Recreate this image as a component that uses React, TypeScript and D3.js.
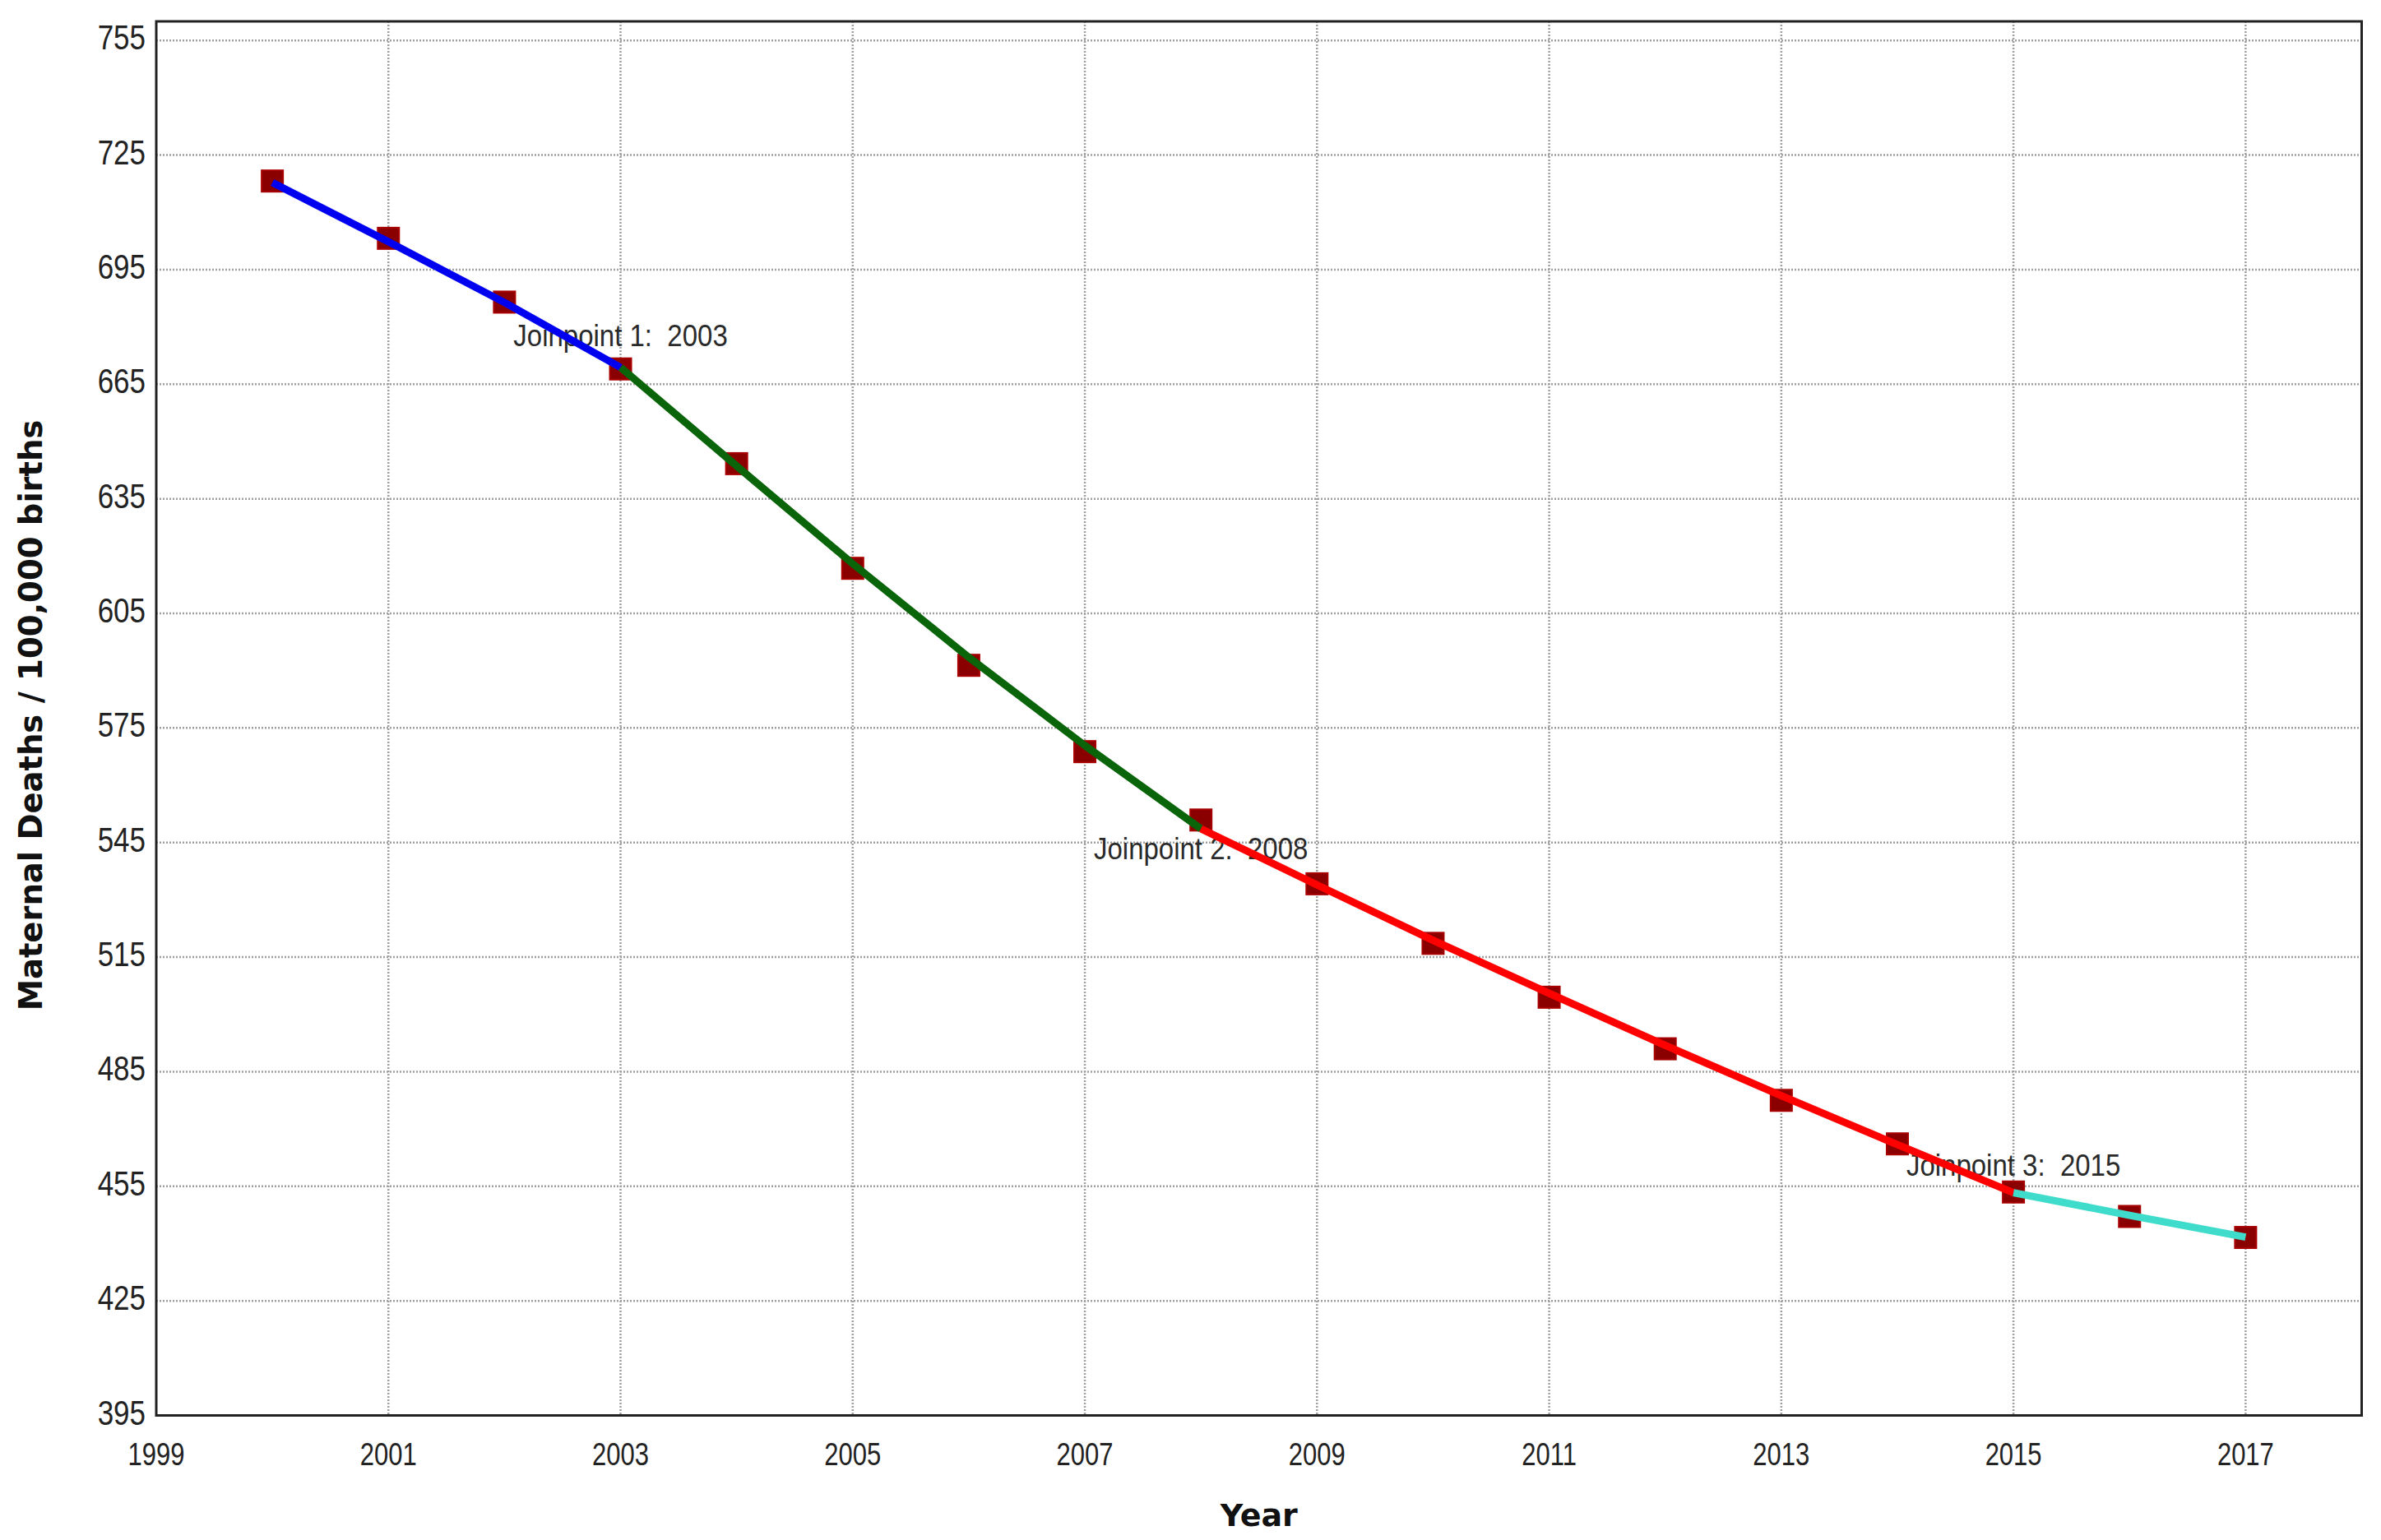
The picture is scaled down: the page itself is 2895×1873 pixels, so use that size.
import { useEffect, useRef } from "react";
import * as d3 from "d3";

const W = 2895;
const H = 1873;
const FONT = "'Liberation Sans', Arial, sans-serif";
const FONT_BOLD = "'DejaVu Sans', Verdana, sans-serif";

// observed rates and the joinpoint fitted line, per year
const years = [2000, 2001, 2002, 2003, 2004, 2005, 2006, 2007, 2008, 2009, 2010, 2011, 2012, 2013, 2014, 2015, 2016, 2017];
const observed = [718.2, 703.2, 686.5, 669.0, 644.2, 616.8, 591.4, 568.8, 550.9, 534.2, 518.6, 504.5, 491.0, 477.5, 466.1, 453.5, 447.1, 441.6];
const fitted = [717.8, 702.3, 686.4, 669.4, 643.6, 618.0, 593.5, 570.4, 548.6, 533.9, 519.4, 505.5, 491.9, 478.7, 465.9, 453.3, 447.4, 441.7];

const joinpoints = [2003, 2008, 2015];
const jpLabels = ["Joinpoint 1:  2003", "Joinpoint 2:  2008", "Joinpoint 3:  2015"];
const segColors = ["#0000f0", "#0a640a", "#ff0000", "#40dccb"];

const xTicks = [1999, 2001, 2003, 2005, 2007, 2009, 2011, 2013, 2015, 2017];
const yTicks = [395, 425, 455, 485, 515, 545, 575, 605, 635, 665, 695, 725, 755];

export default function App() {
  const svgRef = useRef(null);

  useEffect(() => {
    const svg = d3.select(svgRef.current);
    svg.selectAll("*").remove();

    const left = 190, right = 2871.5, top = 26, bottom = 1721.5;
    const x = d3.scaleLinear().domain([1999, 2018]).range([left, right]);
    const y = d3.scaleLinear().domain([395, 760]).range([bottom, top]);

    svg.append("rect").attr("width", W).attr("height", H).attr("fill", "#fff");

    // dotted grid
    const grid = svg.append("g").attr("stroke", "#a0a0a0").attr("stroke-width", 2.5).attr("stroke-dasharray", "2,2");
    grid.selectAll("line.h").data(yTicks.filter(d => d > 395)).enter().append("line")
      .attr("x1", left).attr("x2", right).attr("y1", d => y(d)).attr("y2", d => y(d));
    grid.selectAll("line.v").data(xTicks.filter(d => d > 1999)).enter().append("line")
      .attr("y1", top).attr("y2", bottom).attr("x1", d => x(d)).attr("x2", d => x(d));

    // tick labels (the source font is stretched vertically)
    svg.append("g").selectAll("text").data(yTicks).enter().append("text")
      .attr("transform", d => `translate(177,${y(d) + 11}) scale(1,1.24)`)
      .attr("text-anchor", "end").attr("font-family", FONT).attr("font-size", 35).attr("fill", "#222")
      .text(d => d);
    svg.append("g").selectAll("text").data(xTicks).enter().append("text")
      .attr("transform", d => `translate(${x(d)},1782) scale(1,1.27)`)
      .attr("text-anchor", "middle").attr("font-family", FONT).attr("font-size", 31).attr("fill", "#222")
      .text(d => d);

    // axis titles
    svg.append("text")
      .attr("x", (left + right) / 2).attr("y", 1856)
      .attr("text-anchor", "middle").attr("font-family", FONT_BOLD).attr("font-weight", "bold")
      .attr("font-size", 38).attr("fill", "#111")
      .text("Year");
    svg.append("text")
      .attr("transform", `translate(51,870) rotate(-90)`)
      .attr("text-anchor", "middle").attr("font-family", FONT_BOLD).attr("font-weight", "bold")
      .attr("font-size", 38.5).attr("fill", "#111")
      .text("Maternal Deaths / 100,000 births");

    // joinpoint labels
    const labelDy = [-26, 37, -21];
    svg.append("g").selectAll("text").data(joinpoints).enter().append("text")
      .attr("transform", (d, i) => `translate(${x(d)},${y(fitted[years.indexOf(d)]) + labelDy[i]}) scale(1,1.1)`)
      .attr("text-anchor", "middle").attr("font-family", FONT).attr("font-size", 33).attr("fill", "#2a2a2a")
      .style("white-space", "pre")
      .text((d, i) => jpLabels[i]);

    // observed markers
    const sz = 26;
    svg.append("g").selectAll("rect").data(years).enter().append("rect")
      .attr("x", (d) => x(d) - sz / 2).attr("y", (d, i) => y(observed[i]) - sz / 2)
      .attr("width", sz).attr("height", sz)
      .attr("fill", "#8a0000").attr("stroke", "#a80000").attr("stroke-width", 2);

    // fitted segments
    const bounds = [years[0], ...joinpoints, years[years.length - 1]];
    const line = d3.line<number>().x(d => x(d)).y(d => y(fitted[years.indexOf(d)]));
    bounds.slice(0, -1).forEach((b, i) => {
      const seg = years.filter(yr => yr >= b && yr <= bounds[i + 1]);
      svg.append("path").datum(seg)
        .attr("d", line)
        .attr("fill", "none").attr("stroke", segColors[i]).attr("stroke-width", 9)
        .attr("stroke-linejoin", "round");
    });

    // plot frame
    svg.append("rect")
      .attr("x", left).attr("y", top).attr("width", right - left).attr("height", bottom - top)
      .attr("fill", "none").attr("stroke", "#222").attr("stroke-width", 3);
  }, []);

  return (
    <div style={{ position: "absolute", left: 0, top: 0 }}>
      <svg ref={svgRef} width={W} height={H} style={{ display: "block" }} />
    </div>
  );
}
